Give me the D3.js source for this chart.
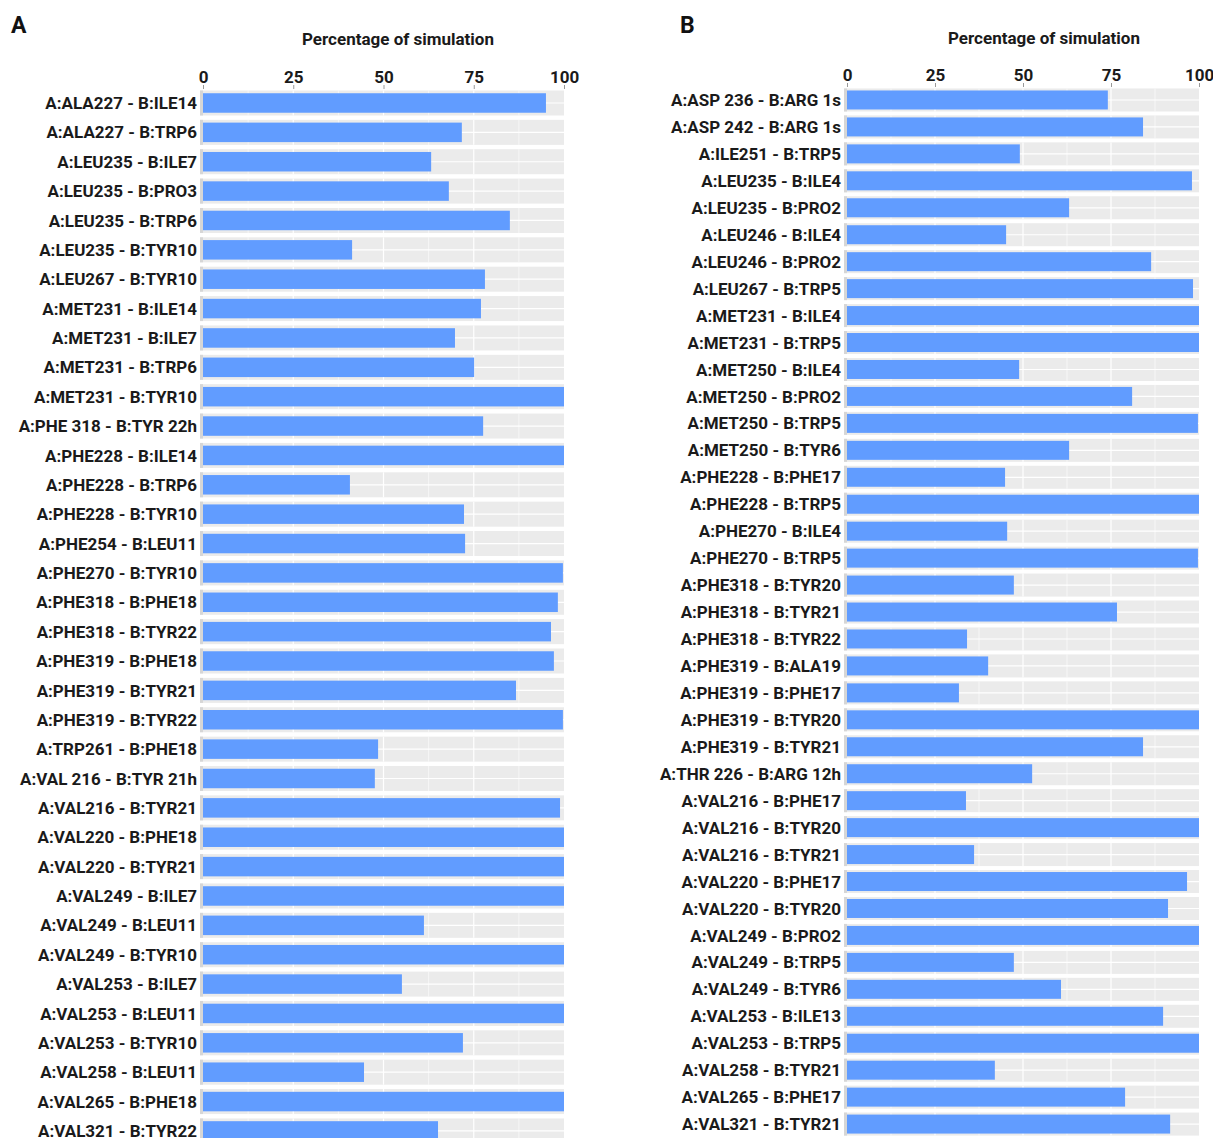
<!DOCTYPE html>
<html>
<head>
<meta charset="utf-8">
<script src="https://cdn.jsdelivr.net/npm/d3@7"></script>
<style>
  html, body { margin: 0; padding: 0; background: #ffffff; }
  svg { display: block; font-family: Roboto, "Noto Sans", sans-serif; }
</style>
</head>
<body>
<svg id="chart" width="1213" height="1138"></svg>
<script>
const ticks = [0, 25, 50, 75, 100];
const axisTitle = "Percentage of simulation";

const labelsA = [
  "A:ALA227 - B:ILE14", "A:ALA227 - B:TRP6", "A:LEU235 - B:ILE7", "A:LEU235 - B:PRO3",
  "A:LEU235 - B:TRP6", "A:LEU235 - B:TYR10", "A:LEU267 - B:TYR10", "A:MET231 - B:ILE14",
  "A:MET231 - B:ILE7", "A:MET231 - B:TRP6", "A:MET231 - B:TYR10", "A:PHE 318 - B:TYR 22h",
  "A:PHE228 - B:ILE14", "A:PHE228 - B:TRP6", "A:PHE228 - B:TYR10", "A:PHE254 - B:LEU11",
  "A:PHE270 - B:TYR10", "A:PHE318 - B:PHE18", "A:PHE318 - B:TYR22", "A:PHE319 - B:PHE18",
  "A:PHE319 - B:TYR21", "A:PHE319 - B:TYR22", "A:TRP261 - B:PHE18", "A:VAL 216 - B:TYR 21h",
  "A:VAL216 - B:TYR21", "A:VAL220 - B:PHE18", "A:VAL220 - B:TYR21", "A:VAL249 - B:ILE7",
  "A:VAL249 - B:LEU11", "A:VAL249 - B:TYR10", "A:VAL253 - B:ILE7", "A:VAL253 - B:LEU11",
  "A:VAL253 - B:TYR10", "A:VAL258 - B:LEU11", "A:VAL265 - B:PHE18", "A:VAL321 - B:TYR22"
];
const valuesA = [
  95.0, 71.7, 63.2, 68.1, 85.0, 41.3, 78.1, 77.0, 69.8, 75.1, 100, 77.6,
  100, 40.7, 72.3, 72.6, 99.7, 98.3, 96.4, 97.2, 86.7, 99.7, 48.5, 47.6,
  98.9, 100, 100, 100, 61.2, 100, 55.1, 100, 72.0, 44.6, 100, 65.1
];

const labelsB = [
  "A:ASP 236 - B:ARG 1s", "A:ASP 242 - B:ARG 1s", "A:ILE251 - B:TRP5", "A:LEU235 - B:ILE4",
  "A:LEU235 - B:PRO2", "A:LEU246 - B:ILE4", "A:LEU246 - B:PRO2", "A:LEU267 - B:TRP5",
  "A:MET231 - B:ILE4", "A:MET231 - B:TRP5", "A:MET250 - B:ILE4", "A:MET250 - B:PRO2",
  "A:MET250 - B:TRP5", "A:MET250 - B:TYR6", "A:PHE228 - B:PHE17", "A:PHE228 - B:TRP5",
  "A:PHE270 - B:ILE4", "A:PHE270 - B:TRP5", "A:PHE318 - B:TYR20", "A:PHE318 - B:TYR21",
  "A:PHE318 - B:TYR22", "A:PHE319 - B:ALA19", "A:PHE319 - B:PHE17", "A:PHE319 - B:TYR20",
  "A:PHE319 - B:TYR21", "A:THR 226 - B:ARG 12h", "A:VAL216 - B:PHE17", "A:VAL216 - B:TYR20",
  "A:VAL216 - B:TYR21", "A:VAL220 - B:PHE17", "A:VAL220 - B:TYR20", "A:VAL249 - B:PRO2",
  "A:VAL249 - B:TRP5", "A:VAL249 - B:TYR6", "A:VAL253 - B:ILE13", "A:VAL253 - B:TRP5",
  "A:VAL258 - B:TYR21", "A:VAL265 - B:PHE17", "A:VAL321 - B:TYR21"
];
const valuesB = [
  74.1, 84.1, 49.1, 98.0, 63.1, 45.2, 86.4, 98.3, 100, 100, 48.9, 81.0,
  99.7, 63.1, 44.9, 100, 45.5, 99.7, 47.4, 76.7, 34.1, 40.1, 31.8, 100,
  84.1, 52.6, 33.8, 100, 36.1, 96.6, 91.2, 100, 47.4, 60.8, 89.8, 100,
  42.0, 79.0, 91.8
];

const svg = d3.select("#chart");
const BAR = "#619cff", BG = "#ebebeb", STRIP = "#d6d6d6", TXT = "#1a1a1a";

function panel(cfg) {
  const g = svg.append("g");
  const x = d3.scaleLinear().domain([0, 100]).range([cfg.x0, cfg.x1]);
  const y = d3.scaleBand().domain(cfg.labels).range([cfg.yStart, cfg.yStart + cfg.step * cfg.labels.length]);
  const data = cfg.labels.map((l, i) => ({ label: l, value: cfg.values[i] }));
  const bandTop = d => y(d.label) + (y.step() - cfg.bandH) / 2;
  const mid = d => y(d.label) + y.step() / 2;

  // panel letter
  g.append("text").attr("x", cfg.letterX).attr("y", 33)
    .attr("font-size", 23).attr("font-weight", 700).attr("fill", "#111").text(cfg.letter);
  // title
  g.append("text").attr("x", cfg.titleX).attr("y", cfg.titleY)
    .attr("text-anchor", "middle").attr("font-size", 17).attr("font-weight", 700)
    .attr("fill", TXT).text(axisTitle);

  // axis
  const axis = d3.axisTop(x).tickValues(ticks).tickSize(4).tickPadding(2).tickFormat(d3.format("d"));
  const ag = g.append("g").attr("transform", `translate(0,${cfg.axisY})`).call(axis);
  ag.select(".domain").remove();
  ag.selectAll(".tick line").attr("stroke", "#999");
  ag.selectAll(".tick text").attr("font-size", 17).attr("font-weight", 700)
    .attr("fill", TXT).attr("font-family", "Roboto, sans-serif");

  const rows = g.selectAll("g.row").data(data).join("g").attr("class", "row");
  // background band
  rows.append("rect").attr("x", x(0) - 3).attr("y", bandTop)
    .attr("width", x(100) - x(0) + 3).attr("height", cfg.bandH).attr("fill", BG);
  rows.append("rect").attr("x", x(0) - 3).attr("y", bandTop)
    .attr("width", 3).attr("height", cfg.bandH).attr("fill", STRIP);
  // vertical gridlines
  const grid = d3.range(12.5, 100, 12.5);
  rows.each(function(d) {
    const r = d3.select(this);
    r.selectAll("line.v").data(grid).join("line").attr("class", "v")
      .attr("x1", v => x(v)).attr("x2", v => x(v))
      .attr("y1", bandTop(d)).attr("y2", bandTop(d) + cfg.bandH)
      .attr("stroke", "#ffffff").attr("stroke-width", v => v % 25 === 0 ? 1.2 : 0.6);
  });
  // horizontal center line
  rows.append("line").attr("x1", x(0)).attr("x2", x(100))
    .attr("y1", mid).attr("y2", mid).attr("stroke", "#ffffff").attr("stroke-width", 1.2);
  // bars
  rows.append("rect").attr("x", x(0)).attr("y", d => mid(d) - cfg.barH / 2)
    .attr("width", d => x(d.value) - x(0)).attr("height", cfg.barH).attr("fill", BAR);
  // labels
  rows.append("text").attr("x", x(0) - 6).attr("y", mid).attr("dy", "0.36em")
    .attr("text-anchor", "end").attr("font-size", 17).attr("font-weight", 700)
    .attr("fill", TXT).text(d => d.label);
}

panel({ letter: "A", letterX: 11, labels: labelsA, values: valuesA,
  x0: 203, x1: 564, yStart: 88.3, step: 29.37, bandH: 25, barH: 19.5,
  titleX: 398, titleY: 45, axisY: 89 });
panel({ letter: "B", letterX: 680, labels: labelsB, values: valuesB,
  x0: 847, x1: 1199, yStart: 86.5, step: 26.95, bandH: 23, barH: 19,
  titleX: 1044, titleY: 44, axisY: 87 });
</script>
</body>
</html>
